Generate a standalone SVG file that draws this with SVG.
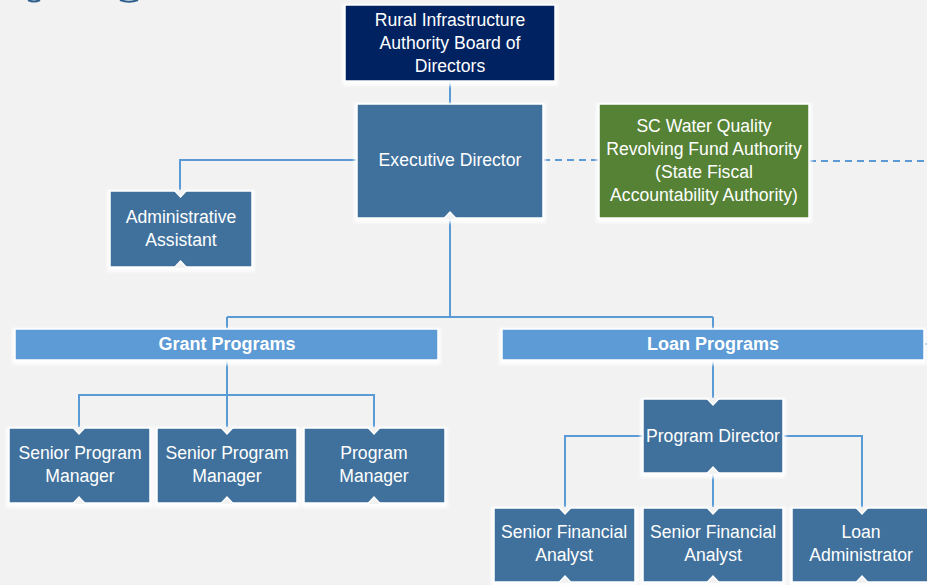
<svg xmlns="http://www.w3.org/2000/svg" width="927" height="585" viewBox="0 0 927 585">
  <defs>
    <filter id="glow" x="-10%" y="-10%" width="120%" height="130%">
      <feMorphology in="SourceAlpha" operator="dilate" radius="2" result="d"/>
      <feOffset in="d" dx="0" dy="2" result="o"/>
      <feGaussianBlur in="o" stdDeviation="1.5" result="b"/>
      <feFlood flood-color="#ffffff" flood-opacity="0.9"/>
      <feComposite in2="b" operator="in" result="s"/>
      <feMerge><feMergeNode in="s"/><feMergeNode in="SourceGraphic"/></feMerge>
    </filter>
  </defs>
  <style>
    .box { fill: #41719C; stroke: #ffffff; stroke-width: 1.5; filter: url(#glow); }
    .navy { fill: #002060; stroke: #ffffff; stroke-width: 1.5; filter: url(#glow); }
    .green { fill: #548235; stroke: #ffffff; stroke-width: 1.5; filter: url(#glow); }
    .bar { fill: #5B9BD5; stroke: #ffffff; stroke-width: 1.5; filter: url(#glow); }
    .notch { fill: #F2F2F2; stroke: #ffffff; stroke-width: 1.5; stroke-linejoin: miter; }
    .t { font-family: "Liberation Sans", Arial, sans-serif; font-size: 17.6px; fill: #ffffff; text-anchor: middle; }
    .tb { font-family: "Liberation Sans", Arial, sans-serif; font-size: 18px; font-weight: bold; fill: #ffffff; text-anchor: middle; }
    .ln { fill: none; stroke: #5B9BD5; stroke-width: 2; }
    .dash { fill: none; stroke: #5B9BD5; stroke-width: 2; stroke-dasharray: 7 5; }
  </style>
  <rect width="927" height="585" fill="#F2F2F2"/>
  <!-- logo fragments at top edge -->
  <path d="M28 0 Q34 3 40 0" fill="none" stroke="#2E5F8C" stroke-width="2"/>
  <path d="M120 0 Q129 3.5 138 0" fill="none" stroke="#2E5F8C" stroke-width="2"/>

  <g id="connectors">
    <path class="ln" d="M450 81 V104"/>
    <path class="dash" d="M543 160 H599"/>
    <path class="dash" d="M809 161 H927"/>
    <path class="ln" d="M357 160 H180 V197"/>
    <path class="ln" d="M450 212 V317 M227 317 H713 M227 317 V329 M713 317 V329"/>
    <path class="ln" d="M924 344 H927"/>
    <path class="ln" d="M227 360 V434 M79 434 V395 H374 V434"/>
    <path class="ln" d="M713 360 V405"/>
    <path class="ln" d="M643 436 H565 V514 M783 436 H862 V514 M713 467 V514"/>
  </g>

  <g id="board">
    <rect class="navy" x="345" y="5" width="210" height="76"/>
    <text class="t" x="450" y="26">Rural Infrastructure</text>
    <text class="t" x="450" y="49">Authority Board of</text>
    <text class="t" x="450" y="72">Directors</text>
  </g>

  <g id="exec">
    <rect class="box" x="357" y="104" width="186" height="114"/>
    <path class="notch" d="M443.5 219 L450 212 L456.5 219"/>
    <text class="t" x="450" y="166">Executive Director</text>
  </g>

  <g id="scwq">
    <rect class="green" x="599" y="104" width="210" height="114"/>
    <text class="t" x="704" y="132">SC Water Quality</text>
    <text class="t" x="704" y="155">Revolving Fund Authority</text>
    <text class="t" x="704" y="178">(State Fiscal</text>
    <text class="t" x="704" y="201">Accountability Authority)</text>
  </g>

  <g id="admin">
    <rect class="box" x="110" y="191" width="142" height="76"/>
    <path class="notch" d="M174 190 L180.5 197 L187 190"/>
    <path class="notch" d="M174 268 L180.5 261 L187 268"/>
    <text class="t" x="181" y="223">Administrative</text>
    <text class="t" x="181" y="246">Assistant</text>
  </g>

  <g id="grant">
    <rect class="bar" x="15" y="329" width="423" height="31"/>
    <text class="tb" x="227" y="350">Grant Programs</text>
  </g>

  <g id="loan">
    <rect class="bar" x="502" y="329" width="422" height="31"/>
    <text class="tb" x="713" y="350">Loan Programs</text>
  </g>

  <g id="spm1">
    <rect class="box" x="9" y="428" width="141" height="75"/>
    <path class="notch" d="M72.5 427 L79 434 L85.5 427"/>
    <path class="notch" d="M72.5 504 L79 497 L85.5 504"/>
    <text class="t" x="80" y="459">Senior Program</text>
    <text class="t" x="80" y="482">Manager</text>
  </g>

  <g id="spm2">
    <rect class="box" x="157" y="428" width="140" height="75"/>
    <path class="notch" d="M220.5 427 L227 434 L233.5 427"/>
    <path class="notch" d="M220.5 504 L227 497 L233.5 504"/>
    <text class="t" x="227" y="459">Senior Program</text>
    <text class="t" x="227" y="482">Manager</text>
  </g>

  <g id="pm">
    <rect class="box" x="304" y="428" width="141" height="75"/>
    <path class="notch" d="M367.5 427 L374 434 L380.5 427"/>
    <path class="notch" d="M367.5 504 L374 497 L380.5 504"/>
    <text class="t" x="374" y="459">Program</text>
    <text class="t" x="374" y="482">Manager</text>
  </g>

  <g id="progdir">
    <rect class="box" x="643" y="399" width="140" height="74"/>
    <path class="notch" d="M706.5 398 L713 405 L719.5 398"/>
    <path class="notch" d="M706.5 474 L713 467 L719.5 474"/>
    <text class="t" x="713" y="442">Program Director</text>
  </g>

  <g id="sfa1">
    <rect class="box" x="494" y="508" width="141" height="74"/>
    <path class="notch" d="M558.5 507 L565 514 L571.5 507"/>
    <path class="notch" d="M558.5 583 L565 576 L571.5 583"/>
    <text class="t" x="564" y="538">Senior Financial</text>
    <text class="t" x="564" y="561">Analyst</text>
  </g>

  <g id="sfa2">
    <rect class="box" x="643" y="508" width="140" height="74"/>
    <path class="notch" d="M706.5 507 L713 514 L719.5 507"/>
    <path class="notch" d="M706.5 583 L713 576 L719.5 583"/>
    <text class="t" x="713" y="538">Senior Financial</text>
    <text class="t" x="713" y="561">Analyst</text>
  </g>

  <g id="loanadmin">
    <rect class="box" x="792" y="508" width="142" height="74"/>
    <path class="notch" d="M855.5 507 L862 514 L868.5 507"/>
    <path class="notch" d="M855.5 583 L862 576 L868.5 583"/>
    <text class="t" x="861" y="538">Loan</text>
    <text class="t" x="861" y="561">Administrator</text>
  </g>
</svg>
